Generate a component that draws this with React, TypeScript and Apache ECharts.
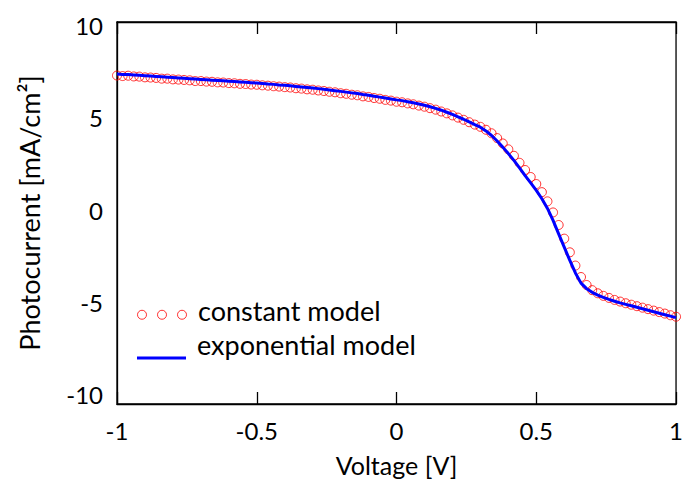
import React, { useEffect, useRef } from "react";
import * as echarts from "echarts";

const voltage: number[] = [];
for (let i = 0; i <= 100; i++) voltage.push(Math.round((-1 + i * 0.02) * 100) / 100);

const exponentialModel = [
  7.38, 7.36, 7.35, 7.33, 7.31, 7.29, 7.27, 7.25, 7.23, 7.21,
  7.19, 7.17, 7.15, 7.13, 7.11, 7.09, 7.07, 7.05, 7.03, 7.01,
  6.99, 6.97, 6.95, 6.93, 6.91, 6.89, 6.87, 6.84, 6.82, 6.79,
  6.77, 6.74, 6.71, 6.68, 6.65, 6.62, 6.59, 6.55, 6.52, 6.48,
  6.44, 6.40, 6.36, 6.32, 6.27, 6.23, 6.18, 6.13, 6.08, 6.03,
  5.98, 5.94, 5.88, 5.82, 5.76, 5.69, 5.61, 5.52, 5.42, 5.31,
  5.19, 5.06, 4.93, 4.79, 4.64, 4.50, 4.30, 4.05, 3.75, 3.42,
  3.07, 2.70, 2.30, 1.88, 1.48, 1.08, 0.62, 0.10, -0.55, -1.28,
  -2.00, -2.72, -3.40, -3.95, -4.25, -4.45, -4.60, -4.72, -4.83, -4.93,
  -5.02, -5.10, -5.18, -5.26, -5.34, -5.42, -5.50, -5.58, -5.66, -5.74,
  -5.82,
];

const constantModel = [
  7.30, 7.27, 7.29, 7.25, 7.24, 7.20, 7.19, 7.17, 7.13, 7.13,
  7.09, 7.08, 7.06, 7.04, 7.00, 7.00, 6.97, 6.96, 6.93, 6.92,
  6.89, 6.88, 6.85, 6.84, 6.81, 6.80, 6.77, 6.75, 6.72, 6.70,
  6.67, 6.65, 6.61, 6.59, 6.55, 6.53, 6.49, 6.46, 6.42, 6.39,
  6.34, 6.31, 6.26, 6.23, 6.17, 6.14, 6.08, 6.04, 5.98, 5.94,
  5.88, 5.85, 5.79, 5.74, 5.67, 5.61, 5.53, 5.45, 5.35, 5.25,
  5.14, 5.02, 4.90, 4.77, 4.64, 4.52, 4.36, 4.17, 3.91, 3.62,
  3.30, 2.95, 2.57, 2.18, 1.80, 1.42, 0.98, 0.48, -0.12, -0.80,
  -1.54, -2.28, -3.00, -3.62, -4.05, -4.33, -4.50, -4.64, -4.75, -4.86,
  -4.95, -5.04, -5.12, -5.20, -5.28, -5.36, -5.44, -5.52, -5.60, -5.69,
  -5.77,
];

const yTickLabels = [-10, -5, 0, 5, 10];
const xTickLabels = [-1, -0.5, 0, 0.5, 1];

const FONT = "Lato";
// three hollow circles, pushed a little below the text centre (moveTo points widen the box)
const THREE_CIRCLES =
  "path://M0.5,-8M56,-8M0.5,5a4.5,4.5 0 1,0 9,0a4.5,4.5 0 1,0 -9,0zM20.5,5a4.5,4.5 0 1,0 9,0a4.5,4.5 0 1,0 -9,0zM40.5,5a4.5,4.5 0 1,0 9,0a4.5,4.5 0 1,0 -9,0z";
// thick line sample, pushed below the text centre
const LINE_SAMPLE = "path://M0,0M55,0M0,26.5L49,26.5L49,29.5L0,29.5Z";

export default function App() {
  const ref = useRef<HTMLDivElement>(null);
  useEffect(() => {
    if (!ref.current) return;
    const chart = echarts.init(ref.current, undefined, { renderer: "svg" });
    const xAxisBase = {
      type: "value" as const,
      min: -1,
      max: 1,
      interval: 0.5,
      axisLine: { show: true, onZero: false, lineStyle: { color: "#000", width: 1.3 } },
      axisTick: { show: true, inside: true, length: 12, lineStyle: { color: "#000", width: 1.3 } },
      splitLine: { show: false },
    };
    chart.setOption({
      animation: false,
      backgroundColor: "#fff",
      textStyle: { fontFamily: FONT },
      grid: {
        left: 117,
        right: 2,
        top: 22,
        bottom: 82,
        show: true,
        borderColor: "#000",
        borderWidth: 1.3,
      },
      xAxis: [
        {
          ...xAxisBase,
          position: "bottom",
          name: "Voltage [V]",
          nameLocation: "middle",
          nameGap: 48,
          nameTextStyle: { fontSize: 25, color: "#000", fontFamily: FONT },
          axisLabel: {
            fontSize: 24,
            color: "#000",
            margin: 14,
            fontFamily: FONT,
            customValues: xTickLabels,
            formatter: (v: number) => String(v),
          },
        },
        {
          ...xAxisBase,
          position: "top",
          axisLabel: { show: false },
        },
      ],
      yAxis: {
        type: "value",
        min: -10.5,
        max: 10.2,
        name: "Photocurrent [mA/cm²]",
        nameLocation: "middle",
        nameGap: 74,
        nameTextStyle: { fontSize: 27, color: "#000", fontFamily: FONT },
        axisLine: { show: true, onZero: false, lineStyle: { color: "#000", width: 1.3 } },
        axisTick: { show: false },
        splitLine: { show: false },
        axisLabel: {
          fontSize: 24,
          color: "#000",
          margin: 14,
          fontFamily: FONT,
          customValues: yTickLabels,
          formatter: (v: number) => String(v),
        },
      },
      legend: [
        {
          data: [{ name: "constant model", icon: THREE_CIRCLES }],
          orient: "vertical",
          left: 137,
          top: 297,
          padding: 0,
          itemWidth: 55.5,
          itemHeight: 17.5,
          itemStyle: { color: "transparent", borderColor: "#ff0000", borderWidth: 1 },
          textStyle: { fontSize: 27, color: "#000", fontFamily: FONT },
        },
        {
          data: [{ name: "exponential model", icon: LINE_SAMPLE }],
          orient: "vertical",
          left: 137,
          top: 330,
          padding: 0,
          itemWidth: 55,
          itemHeight: 29.5,
          itemStyle: { color: "#0000ff", borderWidth: 0 },
          textStyle: { fontSize: 27, color: "#000", fontFamily: FONT },
        },
      ],
      series: [
        {
          name: "constant model",
          type: "scatter",
          xAxisIndex: 0,
          data: voltage.map((v, i) => [v, constantModel[i]]),
          symbol: "circle",
          symbolSize: 9,
          itemStyle: { color: "transparent", borderColor: "#ff0000", borderWidth: 1 },
          z: 2,
        },
        {
          name: "exponential model",
          type: "line",
          xAxisIndex: 0,
          data: voltage.map((v, i) => [v, exponentialModel[i]]),
          showSymbol: false,
          symbol: "none",
          lineStyle: { color: "#0000ff", width: 3 },
          itemStyle: { color: "#0000ff" },
          z: 3,
        },
      ],
    });
    return () => chart.dispose();
  }, []);
  return <div ref={ref} style={{ width: 686, height: 486, position: "absolute", left: 0, top: 0 }} />;
}
